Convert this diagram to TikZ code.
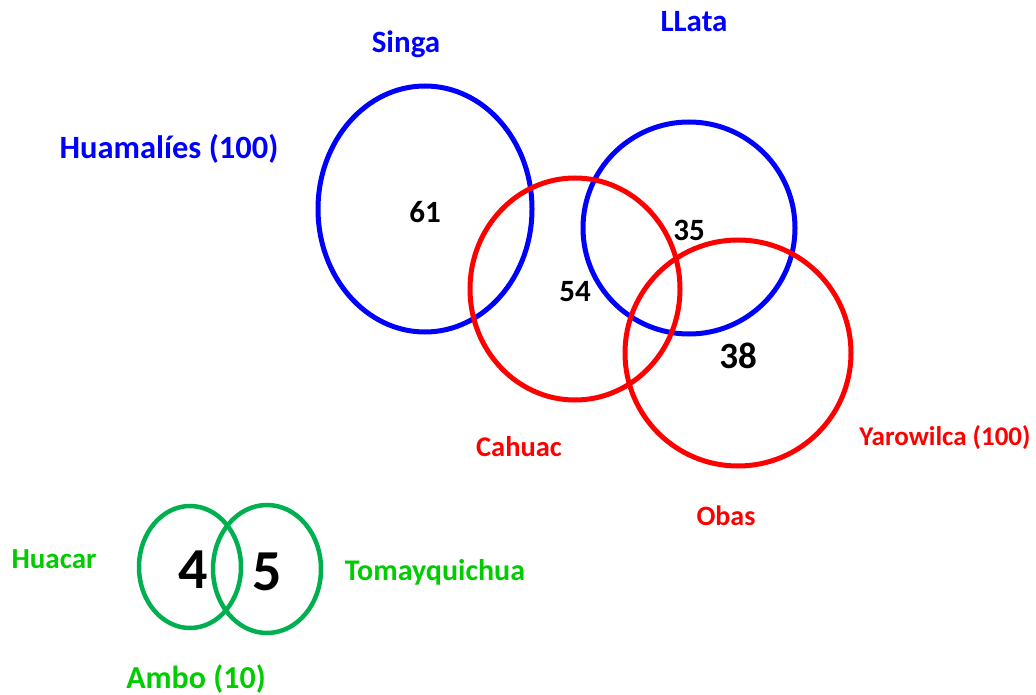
\documentclass[tikz,border=0pt]{standalone}
\usepackage{fontspec}
\setmainfont{Carlito}
\usetikzlibrary{positioning}
\definecolor{setblue}{RGB}{0,0,255}
\definecolor{setred}{RGB}{255,0,0}
\definecolor{setgreen}{RGB}{0,176,80}
\definecolor{labgreen}{RGB}{0,204,0}
\tikzset{
  blue set/.style={draw=setblue, line width=5pt},
  red set/.style={draw=setred, line width=5pt},
  green set/.style={draw=setgreen, line width=4.5pt},
  lab/.style={font=\fontsize{#1}{#1}\selectfont\bfseries, inner sep=0pt},
  lab/.default=31,
  blue lab/.style={lab=#1, text=setblue},
  blue lab/.default=31,
  red lab/.style={lab=#1, text=setred},
  red lab/.default=31,
  green lab/.style={lab=#1, text=labgreen},
  green lab/.default=31,
  count/.style={lab=#1, text=black},
  count/.default=31,
}

\begin{document}
\begin{tikzpicture}[x=1pt, y=-1pt]
  \useasboundingbox (0,0) rectangle (1036,695);

  % Huamalies
  \draw[blue set] (425,209) ellipse [x radius=107, y radius=123];
  \draw[blue set] (689,228) ellipse [x radius=106, y radius=106];
  \node[blue lab] (singa) at (406,44) {Singa};
  \node[blue lab] (llata) at (694,22) {LLata};
  \node[blue lab=32.5] (huamalies) at (169,149) {Huamalíes (100)};

  % Yarowilca
  \draw[red set] (575,289) ellipse [x radius=105, y radius=111];
  \draw[red set] (738,353) ellipse [x radius=113, y radius=113];
  \node[red lab=28.5] (cahuac) at (519,447) {Cahuac};
  \node[red lab=28] (obas) at (726,516) {Obas};
  \node[red lab=27] (yarowilca) at (945,438) {Yarowilca (100)};

  % Counts
  \node[count] (n61) at (425,212) {61};
  \node[count] (n35) at (689,230) {35};
  \node[count] (n54) at (575,292) {54};
  \node[count=37] (n38) at (738,356) {38};

  % Ambo
  \draw[green set] (190,567) ellipse [x radius=51, y radius=61];
  \draw[green set] (267,569) ellipse [x radius=54, y radius=64];
  \node[green lab=29] (huacar) at (54,559) {Huacar};
  \node[green lab=30] (tomay) at (435,572) {Tomayquichua};
  \node[green lab=32] (ambo) at (196,679) {Ambo (10)};
  \node[count=58] (n4) at (193,570) {4};
  \node[count=58] (n5) at (267,572) {5};
\end{tikzpicture}
\end{document}
